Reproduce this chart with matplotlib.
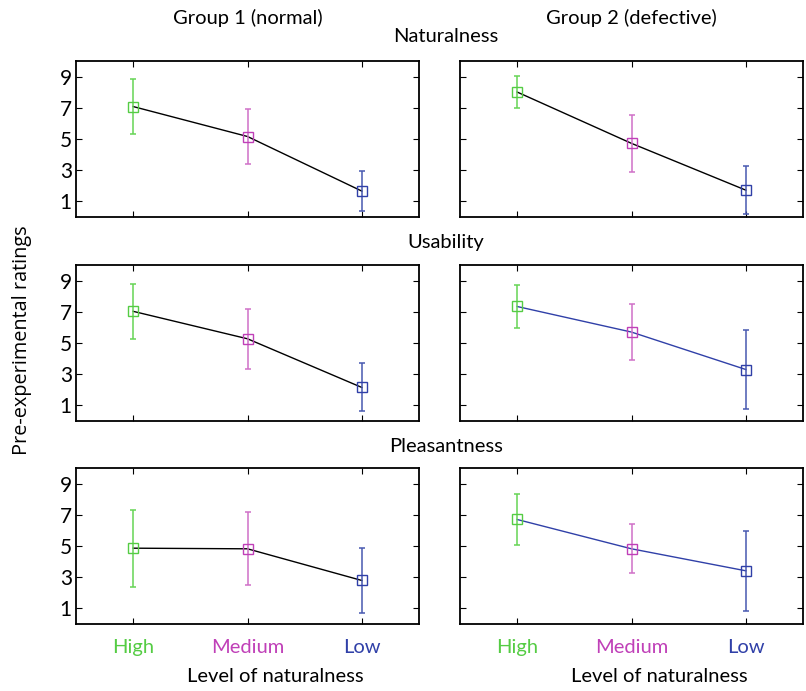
import matplotlib
matplotlib.use("Agg")
import matplotlib.pyplot as plt
import numpy as np

categories = ["High", "Medium", "Low"]
cat_colors = ["#55cc44", "#c040b8", "#3040a8"]
err_colors = ["#66d455", "#d070c8", "#4858b0"]
row_titles = ["Naturalness", "Usability", "Pleasantness"]
group_titles = ["Group 1 (normal)", "Group 2 (defective)"]

# means and symmetric error half-widths [row][group]
nat_g1_mean = [7.08, 5.16, 1.66]
nat_g1_err = [1.76, 1.76, 1.27]
nat_g2_mean = [8.01, 4.72, 1.72]
nat_g2_err = [1.03, 1.84, 1.55]
usa_g1_mean = [7.03, 5.27, 2.15]
usa_g1_err = [1.76, 1.92, 1.54]
usa_g2_mean = [7.34, 5.70, 3.30]
usa_g2_err = [1.35, 1.79, 2.52]
ple_g1_mean = [4.86, 4.82, 2.79]
ple_g1_err = [2.47, 2.34, 2.10]
ple_g2_mean = [6.70, 4.82, 3.41]
ple_g2_err = [1.62, 1.57, 2.55]

data = [
    [(nat_g1_mean, nat_g1_err, "black"), (nat_g2_mean, nat_g2_err, "black")],
    [(usa_g1_mean, usa_g1_err, "black"), (usa_g2_mean, usa_g2_err, "#3040a8")],
    [(ple_g1_mean, ple_g1_err, "black"), (ple_g2_mean, ple_g2_err, "#3040a8")],
]
yticks = [1, 3, 5, 7, 9]

W, H = 806, 691
fig = plt.figure(figsize=(W / 100, H / 100), dpi=100)
font = "Lato"

col_x = [76, 460]
ax_w = 343
row_top = [61, 265, 468]
ax_h = 156

x = np.arange(1, 4)
for r in range(3):
    for c in range(2):
        ax = fig.add_axes([col_x[c] / W, 1 - (row_top[r] + ax_h) / H, ax_w / W, ax_h / H])
        mean, err, lc = data[r][c]
        ax.plot(x, mean, color=lc, lw=1.0, zorder=2)
        for i in range(3):
            ax.errorbar(x[i], mean[i], yerr=err[i], fmt="none", ecolor=err_colors[i],
                        elinewidth=1.1, capsize=2.5, capthick=1.1, zorder=3)
            ax.plot(x[i], mean[i], marker="s", ms=7.5, mfc="none", mec=cat_colors[i],
                    mew=1.0, zorder=4)
        ax.set_xlim(0.5, 3.5)
        ax.set_ylim(0, 10)
        ax.set_yticks(yticks)
        ax.set_xticks(x)
        ax.tick_params(direction="in", length=4, width=0.8, top=True, right=True,
                       labelsize=15)
        ax.tick_params(axis="y", pad=3)
        for s in ax.spines.values():
            s.set_linewidth(1.3)
        if c == 0:
            ax.set_yticklabels([str(v) for v in yticks], fontfamily=font)
        else:
            ax.set_yticklabels([])
        if r == 2:
            ax.set_xticklabels(categories, fontfamily=font, fontsize=14.5)
            for lab, col in zip(ax.get_xticklabels(), cat_colors):
                lab.set_color(col)
            ax.tick_params(axis="x", pad=11)
        else:
            ax.set_xticklabels([])

# group titles
for c in range(2):
    fig.text((col_x[c] + ax_w / 2) / W, 1 - 18 / H, group_titles[c], ha="center", va="center",
             fontsize=14.5, fontfamily=font)
    fig.text((col_x[c] + ax_w / 2 + 28) / W, 1 - 677 / H, "Level of naturalness", ha="center",
             va="center", fontsize=14.5, fontfamily=font)

for t, yy in zip(row_titles, [37, 242, 447]):
    fig.text(446 / W, 1 - yy / H, t, ha="center", va="center", fontsize=14.5, fontfamily=font)

fig.text(22 / W, 1 - 340 / H, "Pre-experimental ratings", rotation=90, ha="center", va="center",
         fontsize=14.3, fontfamily="Open Sans")

fig.savefig("out.png", dpi=100)
